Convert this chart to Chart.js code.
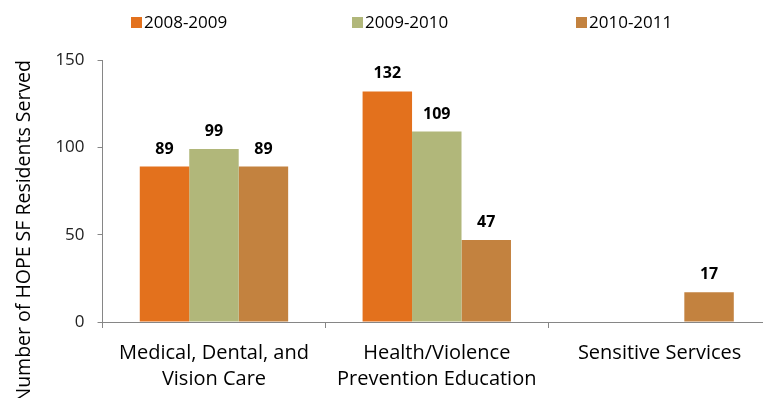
<!DOCTYPE html>
<html><head><meta charset="utf-8">
<script src="https://cdn.jsdelivr.net/npm/chart.js@4.4.1/dist/chart.umd.min.js"></script>
<style>
html,body{margin:0;padding:0;background:#fff;overflow:hidden;width:763px;height:398px}
#wrap{position:relative;width:771px;height:398px}
</style>
</head><body><div id="wrap"><canvas id="c" width="771" height="398"></canvas></div>
<script>
const categories = [["Medical, Dental, and", "Vision Care"], ["Health/Violence", "Prevention Education"], "Sensitive Services"];
const seriesNames = ["2008-2009", "2009-2010", "2010-2011"];
const values2008 = [89, 132, null];
const values2009 = [99, 109, null];
const values2010 = [89, 47, 17];
const yTicks = [0, 50, 100, 150];
const yTitle = "Number of HOPE SF Residents Served";

const seriesColors = ["#E3711D", "#B1B77A", "#C3823F"];
const FONT = "'Open Sans', sans-serif";

const legendPlugin = {
  id: 'customLegend',
  afterDraw(chart) {
    const ctx = chart.ctx;
    const starts = [131, 352, 576];
    ctx.save();
    ctx.font = "17px " + FONT;
    ctx.textBaseline = 'middle';
    ctx.textAlign = 'left';
    chart.data.datasets.forEach((ds, i) => {
      ctx.fillStyle = ds.backgroundColor;
      ctx.fillRect(starts[i], 17, 11, 11);
      ctx.fillStyle = '#000';
      ctx.fillText(ds.label, starts[i] + 13, 23);
    });
    ctx.restore();
  }
};

const valueLabels = {
  id: 'valueLabels',
  afterDatasetsDraw(chart) {
    const ctx = chart.ctx;
    ctx.save();
    ctx.font = "bold 16px " + FONT;
    ctx.fillStyle = '#000';
    ctx.textAlign = 'center';
    ctx.textBaseline = 'alphabetic';
    chart.data.datasets.forEach((ds, di) => {
      const meta = chart.getDatasetMeta(di);
      meta.data.forEach((el, idx) => {
        const v = ds.data[idx];
        if (v === null || v === undefined) return;
        ctx.fillText(String(v), el.x, el.y - 13);
      });
    });
    ctx.restore();
  }
};

const seriesValues = [values2008, values2009, values2010];

new Chart(document.getElementById('c'), {
  type: 'bar',
  data: {
    labels: categories,
    datasets: seriesNames.map((name, i) => ({
      label: name,
      data: seriesValues[i],
      backgroundColor: seriesColors[i],
      borderWidth: 0,
      barPercentage: 1,
      categoryPercentage: 0.666
    }))
  },
  options: {
    responsive: false,
    devicePixelRatio: 1,
    animation: false,
    layout: { padding: { top: 60, bottom: -6, left: 0, right: 0 } },
    plugins: {
      legend: { display: false },
      tooltip: { enabled: false }
    },
    scales: {
      x: {
        grid: { offset: true, drawOnChartArea: false, drawTicks: true, tickLength: 6, color: '#868686' },
        border: { display: true, color: '#868686', width: 1 },
        ticks: { color: '#000', font: { family: FONT, size: 20, lineHeight: 1.3 }, padding: 12, maxRotation: 0, autoSkip: false }
      },
      y: {
        min: 0, max: 150,
        afterBuildTicks: s => { s.ticks = yTicks.map(v => ({ value: v })); },
        grid: { drawOnChartArea: false, drawTicks: true, tickLength: 5, color: '#868686' },
        border: { display: true, color: '#868686', width: 1 },
        ticks: { color: '#222', font: { family: FONT, size: 17 }, padding: 13 },
        title: { display: true, text: yTitle, align: 'end', color: '#000', font: { family: FONT, size: 19.5 }, padding: { top: 13, bottom: 6 } }
      }
    }
  },
  plugins: [legendPlugin, valueLabels]
});
</script>
</body></html>
